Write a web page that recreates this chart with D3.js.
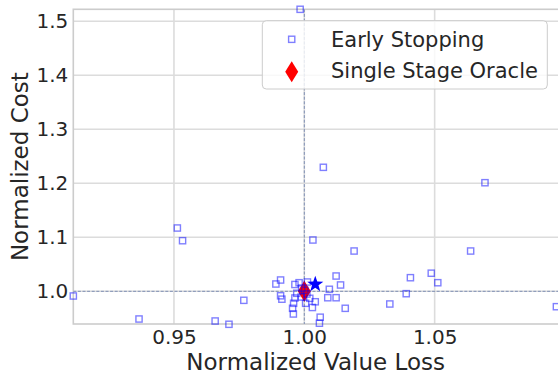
<!DOCTYPE html>
<html>
<head>
<meta charset="utf-8">
<script src="https://cdn.jsdelivr.net/npm/d3@7"></script>
<style>
  html, body { margin: 0; padding: 0; background: #ffffff; }
  svg { display: block; font-family: "DejaVu Sans", sans-serif; }
</style>
</head>
<body>
<svg id="chart" width="558" height="373"></svg>
<script>
// Early stopping runs: normalized value loss vs. normalized cost
const earlyLoss = [
  0.9984, 1.0073, 1.0693, 1.0033, 1.0191, 1.0638, 1.0122, 1.0407, 1.0487, 1.0512,
  1.0139, 1.0096, 1.0391, 1.0090, 1.0122, 1.0328, 1.0157, 1.0967, 1.0042, 1.0031,
  1.0061, 1.0058, 0.9513, 0.9533, 0.9114, 0.9768, 0.9366, 0.9658, 0.9711, 0.9891,
  0.9909, 0.9909, 0.9914, 0.9964, 0.9980, 1.0012, 0.9971, 0.9959, 0.9955, 0.9958,
  1.0005, 1.0021, 0.9964, 1.0002, 0.9990, 1.0010, 0.9988
];
const earlyCost = [
  1.5222, 1.2296, 1.2011, 1.0950, 1.0746, 1.0746, 1.0283, 1.0252, 1.0335, 1.0159,
  1.0117, 1.0037, 0.9956, 0.9881, 0.9881, 0.9765, 0.9685, 0.9715, 0.9806, 0.9700,
  0.9520, 0.9409, 1.1172, 1.0937, 0.9913, 0.9833, 0.9487, 0.9450, 0.9389, 1.0135,
  1.0209, 0.9917, 0.9854, 1.0126, 1.0159, 1.0172, 0.9963, 0.9778, 0.9685, 0.9580,
  0.9778, 0.9870, 0.9876, 1.0019, 1.0060, 0.9950, 0.9894
];

// Single stage oracle
const oracleLoss = [1.0000];
const oracleCost = [1.0000];

// Highlighted run (star)
const starLoss = [1.0042];
const starCost = [1.0130];

const xTicks = [0.95, 1.00, 1.05];
const yTicks = [1.0, 1.1, 1.2, 1.3, 1.4, 1.5];

const legendLabels = ["Early Stopping", "Single Stage Oracle"];

const svg = d3.select("#chart");
const plotL = 73.3, plotR = 560, plotT = 9.3, plotB = 324;

const x = d3.scaleLinear().domain([0.91139, 1.09808]).range([plotL, plotR]);
const y = d3.scaleLinear().domain([0.93944, 1.52222]).range([plotB, plotT]);

const gridColor = "#dcdcdc";
const spineColor = "#cccccc";
const textColor = "#262626";

// grid
const grid = svg.append("g");
grid.selectAll("line.gx").data(xTicks).join("line")
  .attr("class", "gx")
  .attr("x1", d => x(d)).attr("x2", d => x(d))
  .attr("y1", plotT).attr("y2", plotB)
  .attr("stroke", gridColor).attr("stroke-width", 1.6);
grid.selectAll("line.gy").data(yTicks).join("line")
  .attr("class", "gy")
  .attr("x1", plotL).attr("x2", plotR)
  .attr("y1", d => y(d)).attr("y2", d => y(d))
  .attr("stroke", gridColor).attr("stroke-width", 1.6);

// spines
svg.append("rect")
  .attr("x", plotL).attr("y", plotT)
  .attr("width", plotR - plotL).attr("height", plotB - plotT)
  .attr("fill", "none").attr("stroke", spineColor).attr("stroke-width", 1.6);

// axes (labels only, no tick marks)
const xAxis = d3.axisBottom(x).tickValues(xTicks).tickFormat(d3.format(".2f")).tickSize(0).tickPadding(6);
const yAxis = d3.axisLeft(y).tickValues(yTicks).tickFormat(d3.format(".1f")).tickSize(0).tickPadding(5);

const gx = svg.append("g").attr("transform", `translate(0,${plotB})`).call(xAxis);
const gy = svg.append("g").attr("transform", `translate(${plotL},0)`).call(yAxis);
[gx, gy].forEach(g => {
  g.select(".domain").remove();
  g.selectAll("text")
    .attr("fill", textColor)
    .style("font-family", "DejaVu Sans")
    .style("font-size", "20px");
});

// reference lines at 1.0
const refColor = "#7f8fb5";
svg.append("line")
  .attr("x1", x(1)).attr("x2", x(1)).attr("y1", plotT).attr("y2", plotB)
  .attr("stroke", refColor).attr("stroke-width", 1).attr("stroke-dasharray", "3,1.6");
svg.append("line")
  .attr("x1", plotL).attr("x2", plotR).attr("y1", y(1)).attr("y2", y(1))
  .attr("stroke", refColor).attr("stroke-width", 1).attr("stroke-dasharray", "3,1.6");

// thin diamond path
function diamond(w, h) {
  return `M0,${-h / 2}L${w / 2},0L0,${h / 2}L${-w / 2},0Z`;
}
// five-point star path
function star(rOut, rIn) {
  const pts = [];
  for (let i = 0; i < 10; i++) {
    const r = i % 2 === 0 ? rOut : rIn;
    const a = -Math.PI / 2 + i * Math.PI / 5;
    pts.push([r * Math.cos(a), r * Math.sin(a)]);
  }
  return "M" + pts.map(p => p[0].toFixed(2) + "," + p[1].toFixed(2)).join("L") + "Z";
}

const oracleData = oracleLoss.map((v, i) => ({ x: v, y: oracleCost[i] }));
const earlyData = earlyLoss.map((v, i) => ({ x: v, y: earlyCost[i] }));
const starData = starLoss.map((v, i) => ({ x: v, y: starCost[i] }));

// oracle diamonds
svg.append("g").selectAll("path").data(oracleData).join("path")
  .attr("d", diamond(13, 21))
  .attr("transform", d => `translate(${x(d.x)},${y(d.y)})`)
  .attr("fill", "#ff0000");

// early stopping squares
const sq = 6.2;
svg.append("g").selectAll("rect").data(earlyData).join("rect")
  .attr("x", d => x(d.x) - sq / 2).attr("y", d => y(d.y) - sq / 2)
  .attr("width", sq).attr("height", sq)
  .attr("fill", "none")
  .attr("stroke", "#0000ff").attr("stroke-opacity", 0.5).attr("stroke-width", 1.4);

// star
svg.append("g").selectAll("path").data(starData).join("path")
  .attr("d", star(8.5, 3.4))
  .attr("transform", d => `translate(${x(d.x)},${y(d.y)})`)
  .attr("fill", "#0000ff");

// axis titles
svg.append("text")
  .attr("x", (plotL + 558) / 2).attr("y", 369.5)
  .attr("text-anchor", "middle")
  .attr("fill", textColor)
  .style("font-size", "23px")
  .text("Normalized Value Loss");
svg.append("text")
  .attr("transform", `translate(28,${(plotT + plotB) / 2}) rotate(-90)`)
  .attr("text-anchor", "middle")
  .attr("fill", textColor)
  .style("font-size", "23px")
  .text("Normalized Cost");

// legend
const lg = svg.append("g");
lg.append("rect")
  .attr("x", 262.3).attr("y", 20.7).attr("width", 285).attr("height", 68.3)
  .attr("rx", 4).attr("ry", 4)
  .attr("fill", "#ffffff").attr("fill-opacity", 0.8)
  .attr("stroke", spineColor).attr("stroke-width", 1);
lg.append("rect")
  .attr("x", 291.7 - sq / 2).attr("y", 39.3 - sq / 2).attr("width", sq).attr("height", sq)
  .attr("fill", "none").attr("stroke", "#0000ff").attr("stroke-opacity", 0.5).attr("stroke-width", 1.4);
lg.append("path")
  .attr("d", diamond(13, 21))
  .attr("transform", "translate(291.7,71.7)")
  .attr("fill", "#ff0000");
lg.selectAll("text").data(legendLabels).join("text")
  .attr("x", 331)
  .attr("y", (d, i) => 39.3 + i * 31)
  .attr("dy", "0.35em")
  .attr("fill", textColor)
  .style("font-size", "21px")
  .text(d => d);
</script>
</body>
</html>
